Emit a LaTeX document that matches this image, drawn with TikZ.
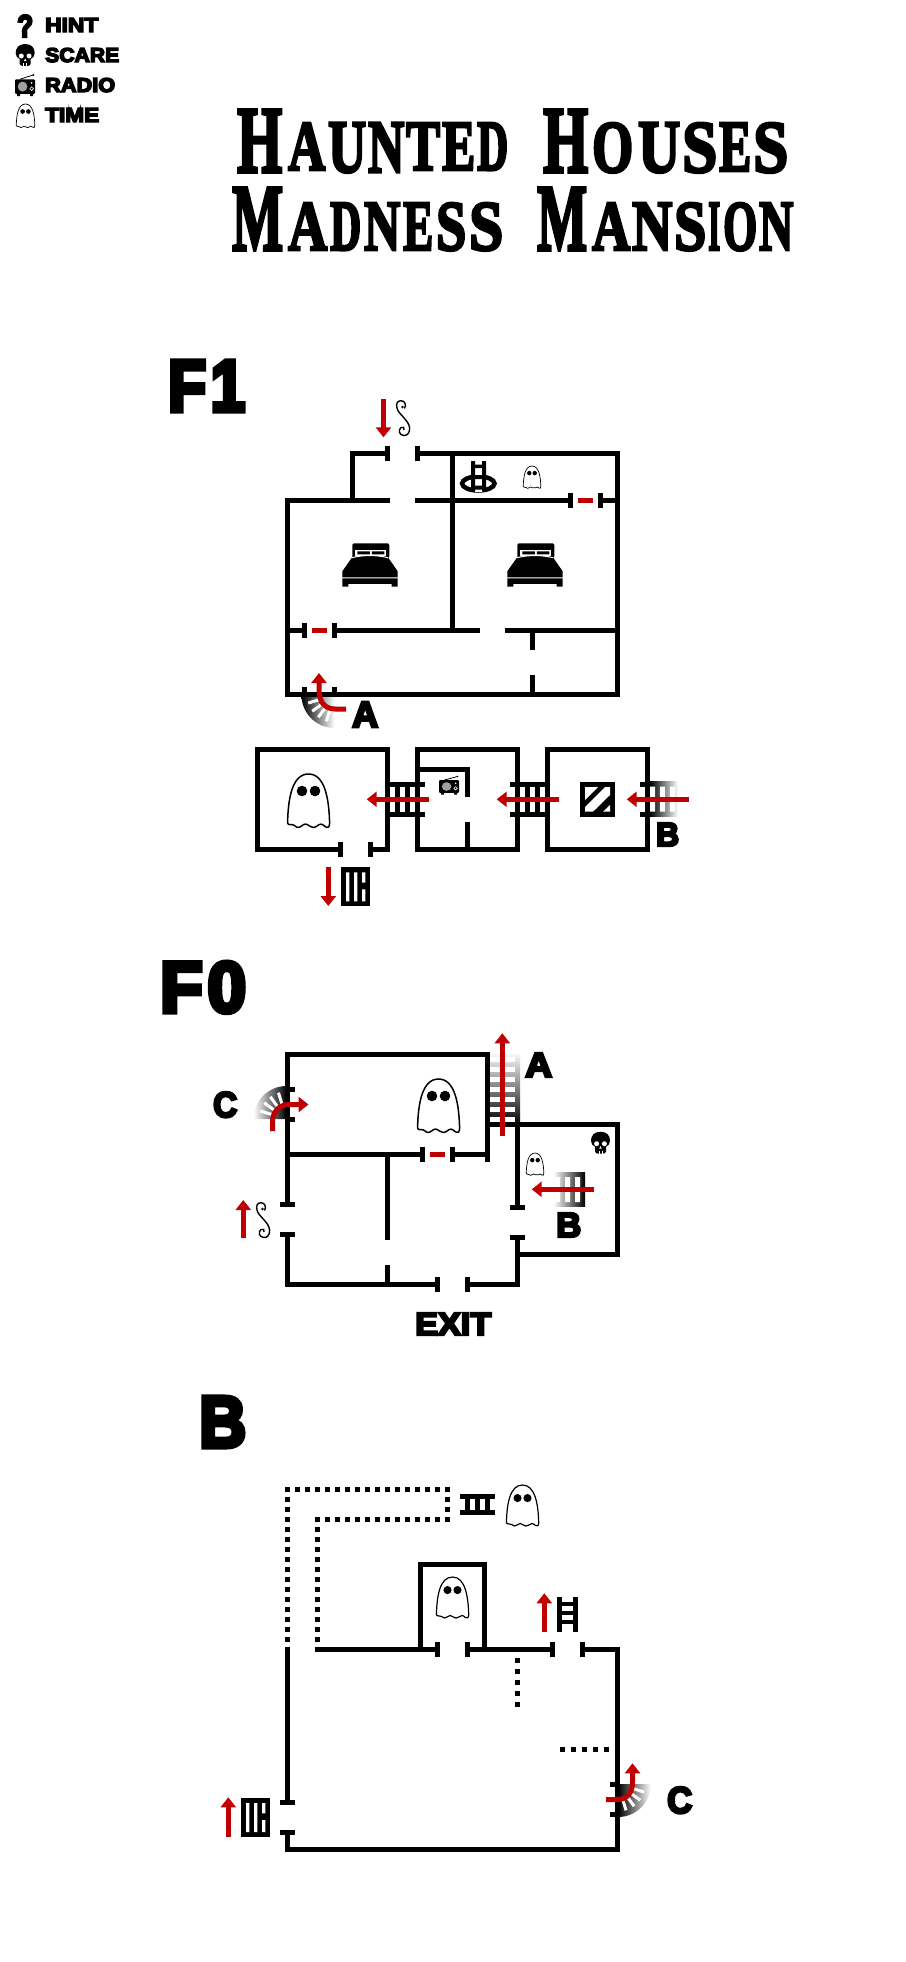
\documentclass[tikz,border=0pt]{standalone}
\usepackage{fontspec}
\usepackage{graphicx}
\usetikzlibrary{arrows.meta}
\newfontfamily\blkf{Liberation Sans}[BoldFeatures={FakeBold=7}]
\newfontfamily\ttlf{Liberation Serif}[BoldFeatures={FakeBold=4}]
\definecolor{redarrow}{HTML}{C00000}
\pgfdeclarehorizontalshading{fadeLR}{100bp}{color(0bp)=(black);color(25bp)=(black);color(75bp)=(white);color(100bp)=(white)}
\pgfdeclarehorizontalshading{fadeRL}{100bp}{color(0bp)=(white);color(25bp)=(white);color(75bp)=(black);color(100bp)=(black)}
\pgfdeclareverticalshading{fadeUp}{100bp}{color(0bp)=(black);color(25bp)=(black);color(75bp)=(white);color(100bp)=(white)}
\tikzset{
  wall/.style={line width=5pt,line cap=butt,line join=miter,black},
  dots/.style={line width=5pt,line cap=butt,black,dash pattern=on 5pt off 5pt},
  dotsb/.style={line width=5pt,line cap=butt,black,dash pattern=on 5pt off 6pt},
  redline/.style={line width=5pt,line cap=butt,redarrow},
  redarr/.style={redline,-{Triangle[length=10pt,width=15pt]}},
  reddash/.style={line width=5pt,line cap=butt,redarrow},
  swirlline/.style={line width=1.4pt,black}
}
% text, stretched to the box it has in the picture
\newcommand\lab[6]{\node[inner sep=0pt,anchor=base west] (#1) at (#2,#5) {\resizebox{\dimexpr #3pt-#2pt\relax}{\dimexpr #5pt-#4pt\relax}{\blkf\bfseries #6}};}
\newcommand\ttl[6]{\node[inner sep=0pt,anchor=base west] (#1) at (#2,#5) {\resizebox{\dimexpr #3pt-#2pt\relax}{\dimexpr #5pt-#4pt\relax}{\ttlf\bfseries #6}};}
% door ticks
\newcommand\vtick[2]{\draw[wall] (#1,#2-7.5) -- (#1,#2+7.5);}
\newcommand\htick[2]{\draw[wall] (#1-7.5,#2) -- (#1+7.5,#2);}
% ghost: x, y, width, line width
\newcommand\ghostat[4]{%
  \begin{scope}[shift={(#1,#2)},scale=#3/43]
    \draw[black,line width=#4pt,line join=round] (0.6,49) .. controls (1,25) and (5,0) .. (21.5,0)
      .. controls (38,0) and (42,25) .. (42.6,49)
      .. controls (42.8,54) and (40,54) .. (38,52.5) .. controls (35,49.5) and (33,49.5) .. (30,52)
      .. controls (27,54) and (25,54) .. (22.5,52) .. controls (19.5,49.5) and (17.5,49.5) .. (14.5,52)
      .. controls (12,54) and (10,54) .. (7.5,51.5) .. controls (5,49.5) and (1,52) .. (0.6,49);
    \fill[black] (15,17) circle[radius=5.3pt];
    \fill[black] (28,17) circle[radius=5.3pt];
  \end{scope}}
\newcommand\skull[2]{%
  \begin{scope}[shift={(#1,#2)}]
    \fill[black] (9.5,0) .. controls (3,0) and (0,4) .. (0,9) .. controls (0,12) and (1.5,14) .. (4,15)
      -- (4,20) .. controls (4,21.5) and (6,22) .. (9.5,22) .. controls (13,22) and (15,21.5) .. (15,20)
      -- (15,15) .. controls (17.5,14) and (19,12) .. (19,9) .. controls (19,4) and (16,0) .. (9.5,0) -- cycle;
    \fill[white] (5.6,12) circle[radius=2.5pt];
    \fill[white] (13.4,12) circle[radius=2.5pt];
    \fill[white] (9.5,14.5) -- (8.2,17) -- (10.8,17) -- cycle;
    \draw[white,line width=.6pt] (8,19) -- (8,22) (11,19) -- (11,22);
  \end{scope}}
\newcommand\radio[4]{% x y xscale yscale
  \begin{scope}[shift={(#1,#2)},xscale=#3,yscale=#4]
    \draw[black,line width=.8pt] (5,5) -- (18,1);
    \fill[black] (18.5,0.8) circle[radius=.9pt];
    \fill[black,rounded corners=1pt] (0,5) rectangle (20,19);
    \fill[black] (2,19) rectangle (5,21) (15,19) rectangle (18,21);
    \fill[gray!75] (7.6,12) circle[radius=4.8pt];
    \fill[white] (16.6,8.5) circle[radius=.9pt];
    \draw[white,line width=.6pt] (16.6,14) circle[radius=1.8pt];
  \end{scope}}
\newcommand\bed[2]{%
  \begin{scope}[shift={(#1,#2)}]
    \fill[black,rounded corners=2pt] (10,15) -- (10,0) -- (47,0) -- (47,15) -- cycle;
    \fill[white] (13,6.5) rectangle (44,13);
    \fill[black] (15,8) rectangle (27.5,11) (29.5,8) rectangle (42,11);
    \fill[black] (0,28) -- (0,34) -- (55.4,34) -- (55.4,28) -- (46,14.5) .. controls (35,11.5) and (20,11.5) .. (9.5,14.5) -- cycle;
    \draw[white,line width=1pt] (9.5,14.5) .. controls (20,11.5) and (35,11.5) .. (46,14.5);
    \fill[black] (0,35) rectangle (55.4,40.5) (0,40) rectangle (6,43.4) (49.4,40) rectangle (55.4,43.4);
  \end{scope}}
\newcommand\swirl[2]{%
  \begin{scope}[shift={(#1,#2)}]
    \draw[swirlline] (8.5,8.5) .. controls (10.5,5) and (9,0.7) .. (5,0.7) .. controls (1,0.7) and (0,4) .. (1,8)
      .. controls (2,14) and (13,20) .. (13.6,28) .. controls (14,33) and (11,36) .. (7.5,35.4)
      .. controls (3,35) and (2,30) .. (5,27.5) .. controls (7,26) and (9,28) .. (8,30);
    \fill[black] (6.5,7) circle[radius=1.3pt];
  \end{scope}}
\newcommand\grate[2]{%
  \begin{scope}[shift={(#1,#2)}]
    \fill[black] (0,0) rectangle (29,39);
    \fill[white] (5,5) rectangle (8.4,34) (13,5) rectangle (16.4,34) (21,5) rectangle (24.4,15.4) (21,22) rectangle (24.4,34);
  \end{scope}}
% fan stair: centre, first angle, shading
\newcommand\fan[4]{%
  \begin{scope}[shift={(#1,#2)}]
    \shade[shading=#4] (0pt,0pt) -- (#3:33pt) arc[start angle=#3,delta angle=90,radius=33pt] -- cycle;
    \foreach \ang in {17,36,54,73}{
      \draw[white,line width=3pt] (#3+\ang:14pt) -- (#3+\ang:27.5pt);
    }
  \end{scope}}
\begin{document}
\begin{tikzpicture}[x=1pt,y=-1pt]
\useasboundingbox (0,0) rectangle (905,1962);
\fill[white] (0,0) rectangle (905,1962);

% legend
\lab{qmark}{17}{33}{15}{37}{?}
\skull{15.7}{44}
\radio{15}{74}{1}{1.05}
\ghostat{16}{104}{19}{.7}
\lab{hint}{45}{98}{18}{32}{HINT}
\lab{scare}{45}{119}{48}{62}{SCARE}
\lab{radiotext}{45}{115}{78}{92}{RADIO}
\lab{timetext}{45}{99}{108}{122}{TIME}

% title
\ttl{t1}{237}{282}{110}{172}{H}
\ttl{t2}{288}{325}{123}{170}{A}
\ttl{t3}{328}{366}{123}{172}{U}
\ttl{t4}{368}{404}{123}{172}{N}
\ttl{t5}{406}{440}{123}{170}{T}
\ttl{t6}{442}{475}{123}{170}{E}
\ttl{t7}{477}{508}{123}{170}{D}
\ttl{t8}{543}{588}{110}{172}{H}
\ttl{t9}{592}{633}{123}{172}{O}
\ttl{t10}{638}{680}{123}{172}{U}
\ttl{t11}{682}{717}{123}{172}{S}
\ttl{t12}{719}{751}{123}{171}{E}
\ttl{t13}{753}{788}{123}{172}{S}
\ttl{m1}{232}{283}{188}{250}{M}
\ttl{m2}{288}{327}{203}{250}{A}
\ttl{m3}{330}{361}{203}{250}{D}
\ttl{m4}{364}{400}{203}{250}{N}
\ttl{m5}{403}{433}{203}{250}{E}
\ttl{m6}{436}{466}{203}{250}{S}
\ttl{m7}{469}{503}{203}{250}{S}
\ttl{m8}{537}{587}{188}{250}{M}
\ttl{m9}{592}{630}{203}{250}{A}
\ttl{m10}{632}{672}{203}{250}{N}
\ttl{m11}{674}{706}{203}{250}{S}
\ttl{m12}{708}{720}{203}{250}{I}
\ttl{m13}{723}{757}{203}{250}{O}
\ttl{m14}{759}{793}{203}{250}{N}

% section labels
\lab{fone}{168}{245}{361}{411}{F\kern.7pt 1}
\lab{fzero}{160}{246}{962}{1012}{F\kern.7pt 0}
\lab{basem}{199}{246}{1397}{1447}{B}

%%%% F1
\fan{334.5}{695}{180}{fadeLR}
\draw[wall] (352.5,500) -- (352.5,453.5) -- (388,453.5);
\draw[wall] (417,453.5) -- (617.5,453.5) -- (617.5,694.5) -- (287.5,694.5) -- (287.5,500) -- (390,500);
\draw[wall] (415,500) -- (570,500) (600,500) -- (617.5,500);
\draw[wall] (452.5,453.5) -- (452.5,630);
\draw[wall] (287.5,630) -- (304,630) (334,630) -- (480,630) (505,630) -- (617.5,630);
\draw[wall] (532.5,630) -- (532.5,650) (532.5,675) -- (532.5,694.5);
\vtick{387.5}{453.5}\vtick{417.5}{453.5}
\vtick{570.5}{500}\vtick{600.5}{500}
\vtick{304.5}{630}\vtick{334.5}{630}
\draw[wall] (304.5,687) -- (304.5,694.5) (334.5,687) -- (334.5,694.5);
\draw[reddash] (578,500) -- (593,500);
\draw[reddash] (312,630) -- (327,630);
\draw[redarr] (383.5,399) -- (383.5,437.3);
\swirl{396}{400}
% hole and ladder
\draw[black,line width=4.5pt] (478.3,483.5) ellipse[x radius=16.2pt,y radius=7pt];
\fill[white] (474.5,461) rectangle (482.5,491.7);
\fill[black] (471,461) rectangle (475.2,491.7) (482,461) rectangle (486.2,491.7);
\fill[black] (475,464.5) rectangle (482.5,468) (475,475) rectangle (482.5,479) (475,485.5) rectangle (482.5,489.5);
\ghostat{523}{466}{18}{.7}
\bed{342.3}{543.3}
\bed{507.3}{543.3}
\draw[redarr] (346,709) -- (335,709) .. controls (325,709) and (319,702) .. (319,690) -- (319,673);
\lab{fonea}{352}{378}{702}{727}{A}

% F1 lower rooms
\draw[wall] (340,849.5) -- (257.5,849.5) -- (257.5,749.5) -- (387.5,749.5) -- (387.5,849.5) -- (370,849.5);
\vtick{340.5}{849.5}\vtick{370.5}{849.5}
\draw[wall] (417.5,747) -- (417.5,849.5) (415,849.5) -- (517.5,849.5) -- (517.5,749.5) -- (415,749.5);
\draw[wall] (417.5,769.5) -- (467.5,769.5) -- (467.5,797) (467.5,822) -- (467.5,849.5);
\draw[wall] (547.5,749.5) rectangle (647.5,849.5);
% stairs between rooms
\draw[wall] (387.5,784) -- (425,784) (387.5,814) -- (425,814);
\draw[wall] (397.5,784) -- (397.5,814) (407.5,784) -- (407.5,814);
\draw[wall] (510,784) -- (547.5,784) (510,814) -- (547.5,814);
\draw[wall] (527.5,784) -- (527.5,814) (537.5,784) -- (537.5,814);
% fading stair right
\shade[shading=fadeLR] (650,781.5) rectangle (678,816.5);
\fill[white] (650,786.5) rectangle (655,811.5) (660,786.5) rectangle (665,811.5) (670,786.5) rectangle (675,811.5);
\draw[wall] (640,784) -- (650,784) (640,814) -- (650,814);
% tile
\fill[black] (580,781.7) rectangle (615,816.7);
\fill[white] (585,787) -- (598,787) -- (585,800) -- cycle;
\fill[white] (585,811.7) -- (593,811.7) -- (610,795) -- (610,787) -- (605,787) -- (585,807) -- cycle;
\fill[white] (603,811.7) -- (610,811.7) -- (610,805) -- cycle;
\ghostat{287}{774}{43}{1.5}
\radio{439}{775.7}{1}{.9}
\draw[redarr] (429,799.3) -- (366.7,799.3);
\draw[redarr] (559,799.3) -- (496.7,799.3);
\draw[redarr] (689,799.3) -- (626.7,799.3);
\lab{foneb}{656}{679}{823}{846}{B}
\draw[redarr] (328.3,867.3) -- (328.3,906);
\grate{341}{867.3}

%%%% F0
\fan{286.5}{1119}{90}{fadeRL}
% stair A
\shade[shading=fadeUp] (490,1052) rectangle (520,1124.5);
\foreach \gy in {1056.7,1066.7,1076.7,1086.7,1096.7,1106.7,1116.7}{
  \fill[white] (490,\gy) rectangle (515,\gy+5);
}
\draw[wall] (287.5,1204.5) -- (287.5,1054.5) -- (487.5,1054.5) -- (487.5,1161.7);
\draw[wall] (287.5,1234.5) -- (287.5,1284.5) -- (437.5,1284.5) (467.5,1284.5) -- (517.5,1284.5) -- (517.5,1237.5);
\draw[wall] (517.5,1207.5) -- (517.5,1122);
\draw[wall] (515,1124.5) -- (617.5,1124.5) -- (617.5,1254.5) -- (515,1254.5);
\draw[wall] (485,1124.5) -- (520,1124.5);
\draw[wall] (287.5,1154.5) -- (423,1154.5) (452,1154.5) -- (487.5,1154.5);
\draw[wall] (387.5,1154.5) -- (387.5,1240) (387.5,1265) -- (387.5,1284.5);
\vtick{422.5}{1154.5}\vtick{452.5}{1154.5}
\vtick{437.5}{1284.5}\vtick{467.5}{1284.5}
\htick{287.5}{1204.5}\htick{287.5}{1234.5}
\htick{517.5}{1207.5}\htick{517.5}{1237.5}
\draw[wall] (285,1089.5) -- (295,1089.5) (285,1119.5) -- (295,1119.5);
\draw[reddash] (430,1154.5) -- (445,1154.5);
\draw[redarr] (502.3,1136) -- (502.3,1033.3);
\draw[redarr] (272.5,1131) -- (272.5,1122) .. controls (272.5,1112) and (279,1104.5) .. (289,1104.5) -- (308.5,1104.5);
\lab{fzeroa}{525}{552}{1053}{1077}{A}
\lab{fzeroc}{213}{237}{1092}{1117}{C}
\ghostat{417}{1079}{43}{1.5}
\skull{591}{1131.7}
\ghostat{526}{1153}{18}{.7}
% stair B
\shade[shading=fadeRL] (553.3,1172.3) rectangle (585,1206.7);
\fill[white] (555,1177) rectangle (560,1202) (565,1177) rectangle (570,1202) (575,1177) rectangle (580,1202);
\draw[redarr] (594,1189.3) -- (531.7,1189.3);
\lab{fzerob}{556}{581}{1213}{1237}{B}
\draw[redarr] (243.3,1237.7) -- (243.3,1200);
\swirl{256}{1202}
\lab{exit}{415}{491}{1313}{1335}{EXIT}

%%%% Basement
\draw[dots] (285,1489.5) -- (450,1489.5);
\draw[dots] (287.5,1487) -- (287.5,1642);
\draw[dots] (447.5,1487) -- (447.5,1522);
\draw[dots] (315,1519.5) -- (450,1519.5);
\draw[dots] (317.5,1517) -- (317.5,1642);
\draw[dotsb] (517.5,1658) -- (517.5,1707);
\draw[dotsb] (560,1749.5) -- (609,1749.5);
\fan{618}{1784}{270}{fadeLR}
\draw[wall] (287.5,1646.7) -- (287.5,1802.5) (287.5,1832.5) -- (287.5,1849.5) -- (617.5,1849.5) -- (617.5,1649.5) -- (582.5,1649.5);
\draw[wall] (552.5,1649.5) -- (467.5,1649.5) (437.5,1649.5) -- (315,1649.5);
\draw[wall] (420.5,1649.5) -- (420.5,1564.5) -- (484.5,1564.5) -- (484.5,1649.5);
\vtick{437.5}{1649.5}\vtick{467.5}{1649.5}
\vtick{552.5}{1649.5}\vtick{582.5}{1649.5}
\htick{287.5}{1802.5}\htick{287.5}{1832.5}
\draw[wall] (610,1784.5) -- (620,1784.5) (610,1814.5) -- (620,1814.5);
% top ladder
\draw[wall] (460,1496) -- (495,1496) (460,1512.7) -- (495,1512.7);
\draw[wall] (467.7,1496) -- (467.7,1512.7) (477.7,1496) -- (477.7,1512.7) (487.7,1496) -- (487.7,1512.7);
\ghostat{506}{1485}{33}{1.2}
\ghostat{436}{1577}{33}{1.2}
% side ladder
\draw[wall] (559.3,1596.7) -- (559.3,1631.7) (575.3,1596.7) -- (575.3,1631.7);
\draw[black,line width=4pt] (559.3,1604) -- (575.3,1604) (559.3,1613) -- (575.3,1613) (559.3,1622) -- (575.3,1622);
\draw[redarr] (544.3,1631.7) -- (544.3,1593.3);
\draw[redarr] (228.3,1837) -- (228.3,1797.3);
\grate{241}{1798}
\draw[redarr] (606,1799.5) -- (617,1799.5) .. controls (628,1799.5) and (632.5,1792) .. (632.5,1782) -- (632.5,1763.3);
\lab{basec}{667}{692}{1787}{1813}{C}
\end{tikzpicture}
\end{document}
